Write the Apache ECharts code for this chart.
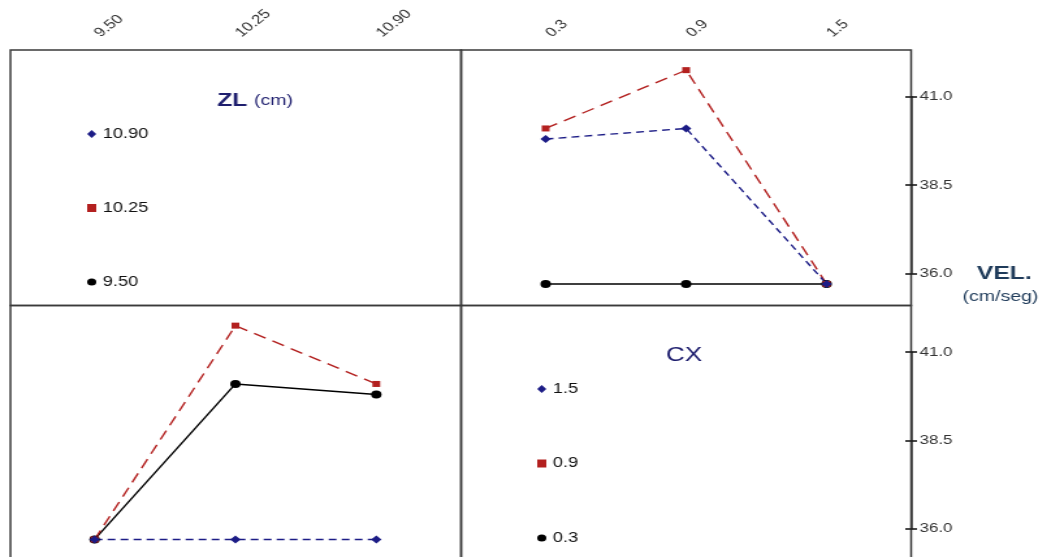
<!DOCTYPE html>
<html>
<head>
<meta charset="utf-8">
<script src="https://cdn.jsdelivr.net/npm/echarts@6/dist/echarts.min.js"></script>
<style>
  html, body { margin: 0; padding: 0; background: #fff; overflow: hidden; }
  /* the chart is laid out narrow and stretched horizontally */
  #chart { width: 808px; height: 557px; transform: scaleX(1.3007); transform-origin: 0 0; }
</style>
</head>
<body>
<div id="chart"></div>
<script>
// factor levels
const zlLevels = ['9.50', '10.25', '10.90'];
const cxLevels = ['0.3', '0.9', '1.5'];

// mean VEL. (cm/seg) for each ZL level, across CX = 0.3, 0.9, 1.5
const velZL950  = [35.7, 35.7, 35.7];
const velZL1025 = [40.1, 41.75, 35.7];
const velZL1090 = [39.8, 40.1, 35.7];

// the same cell means read per CX level, across ZL = 9.50, 10.25, 10.90
const velCX03 = [velZL950[0], velZL1025[0], velZL1090[0]];
const velCX09 = [velZL950[1], velZL1025[1], velZL1090[1]];
const velCX15 = [velZL950[2], velZL1025[2], velZL1090[2]];

// response axis: tick labels and visible range of each panel row
const velTickMin = 36.0, velTickMax = 41.0, velTickStep = 2.5;
const velMin = 35.09, velMax = 42.32;

const FONT = 'Liberation Sans, Arial, sans-serif';
const BLACK = '#000000', RED = '#b3201f', BLUE = '#1c1c86';
const TITLE_BLUE = '#1e1e6e', VEL_BLUE = '#1f3b5a';
const FRAME = '#3a3a3a';

// panel frame (layout units, before horizontal stretch)
const P = { x0: 8, xm: 354.5, x1: 700.5, y0: 50, ym: 305.5, h: 255.5, bottom: 557 };
const rowPx = (rowTop, v) => rowTop + (velMax - v) / (velMax - velMin) * P.h;

function panel(x, y, w, h) {
  return { type: 'rect', silent: true, z: 0,
    shape: { x: x, y: y, width: w, height: h },
    style: { fill: 'none', stroke: FRAME, lineWidth: 1.5 } };
}

// data grids: VEL. range of the row, axis itself not drawn
function dataAxis(gridIndex, min) {
  return { type: 'value', gridIndex: gridIndex, min: min, max: velMax, show: false };
}

// narrow grid ending on the right frame line, carrying the 36.0 / 38.5 / 41.0 scale;
// ticks cross the frame line, so one axis draws the outer half and one the inner half
function scaleAxis(gridIndex, inside) {
  return {
    type: 'value', gridIndex: gridIndex, position: 'right', offset: 0,
    min: velTickMin, max: velTickMax, interval: velTickStep,
    axisLine: { show: !inside, onZero: false, lineStyle: { color: FRAME, width: 1.5 } },
    splitLine: { show: false },
    axisTick: { show: true, inside: inside, length: 4.5,
                lineStyle: { color: '#1a1a1a', width: 1.6 } },
    axisLabel: { show: !inside, margin: 6.5, formatter: v => v.toFixed(1),
                 fontFamily: FONT, fontSize: 13, color: '#333' }
  };
}

function scaleGrid(rowTop) {
  return { left: P.x1 - 1, width: 1, top: rowPx(rowTop, velTickMax),
           height: rowPx(rowTop, velTickMin) - rowPx(rowTop, velTickMax) };
}

function levelAxis(gridIndex, data, offset) {
  return {
    type: 'category', gridIndex: gridIndex, data: data, boundaryGap: false,
    position: 'top', offset: offset,
    axisLine: { show: false }, axisTick: { show: false }, splitLine: { show: false },
    axisLabel: { rotate: -45, margin: 13, padding: [0, 0, 0, 3],
                 fontFamily: FONT, fontSize: 13, color: '#333' }
  };
}

function hiddenX(gridIndex) {
  return { type: 'value', gridIndex: gridIndex, show: false, min: 0, max: 1 };
}

function lineSeries(name, xi, yi, data, color, symbol, size, type, width) {
  return {
    type: 'line', name: name, xAxisIndex: xi, yAxisIndex: yi, data: data,
    symbol: symbol, symbolSize: size, showSymbol: true, clip: false,
    itemStyle: { color: color },
    lineStyle: { color: color, width: width, type: type },
    emphasis: { disabled: true }
  };
}

const legendText = { fontFamily: FONT, fontSize: 14, color: '#111', lineHeight: 14 };
const bottomMin = velMax - (P.bottom - P.ym) / P.h * (velMax - velMin);

const option = {
  animation: false,
  backgroundColor: '#ffffff',
  graphic: [
    panel(P.x0, P.y0, P.xm - P.x0, P.h),
    panel(P.xm, P.y0, P.x1 - P.xm, P.h),
    panel(P.x0, P.ym, P.xm - P.x0, P.h),
    panel(P.xm, P.ym, P.x1 - P.xm, P.h)
  ],
  title: [
    { text: '{a|ZL} {b|(cm)}', left: 167, top: 91, padding: 0,
      textStyle: { rich: {
        a: { fontFamily: FONT, fontSize: 19, fontWeight: 'bold', color: TITLE_BLUE, verticalAlign: 'middle' },
        b: { fontFamily: FONT, fontSize: 15, fontWeight: 'normal', color: TITLE_BLUE, verticalAlign: 'middle' } } } },
    { text: 'CX', left: 512, top: 345, padding: 0,
      textStyle: { fontFamily: FONT, fontSize: 20, fontWeight: 'normal', color: TITLE_BLUE } },
    { text: 'VEL.', left: 751, top: 264, padding: 0,
      textStyle: { fontFamily: FONT, fontSize: 19, fontWeight: 'bold', color: VEL_BLUE } },
    { text: '(cm/seg)', left: 740, top: 289, padding: 0,
      textStyle: { fontFamily: FONT, fontSize: 15, fontWeight: 'normal', color: VEL_BLUE } }
  ],
  legend: [
    { orient: 'vertical', left: 67, top: 127, padding: 0, itemGap: 60,
      itemWidth: 7, itemHeight: 8, selectedMode: false, textStyle: legendText,
      data: [ { name: zlLevels[2], icon: 'diamond' },
              { name: zlLevels[1], icon: 'rect' },
              { name: zlLevels[0], icon: 'circle' } ] },
    { orient: 'vertical', left: 413, top: 382, padding: 0, itemGap: 60.5,
      itemWidth: 7, itemHeight: 8, selectedMode: false, textStyle: legendText,
      data: [ { name: cxLevels[2], icon: 'diamond' },
              { name: cxLevels[1], icon: 'rect' },
              { name: cxLevels[0], icon: 'circle' } ] }
  ],
  grid: [
    { left: 419.5, width: 216, top: P.y0, height: P.h },
    { left: 72.7, width: 216.6, top: P.ym, height: P.bottom - P.ym },
    scaleGrid(P.y0), scaleGrid(P.ym),
    scaleGrid(P.y0), scaleGrid(P.ym)
  ],
  xAxis: [
    levelAxis(0, cxLevels, 0),
    levelAxis(1, zlLevels, P.ym - P.y0),
    hiddenX(2), hiddenX(3), hiddenX(4), hiddenX(5)
  ],
  yAxis: [
    dataAxis(0, velMin),
    dataAxis(1, bottomMin),
    scaleAxis(2, false),
    scaleAxis(3, false),
    scaleAxis(4, true),
    scaleAxis(5, true)
  ],
  series: [
    // VEL. against CX, one line per ZL level
    lineSeries(zlLevels[0], 0, 0, velZL950,  BLACK, 'circle',  8, 'solid',  1.4),
    lineSeries(zlLevels[1], 0, 0, velZL1025, RED,   'rect',    6, [10, 6],  1.4),
    lineSeries(zlLevels[2], 0, 0, velZL1090, BLUE,  'diamond', 8, [6, 4],   1.4),
    // VEL. against ZL, one line per CX level
    lineSeries(cxLevels[0], 1, 1, velCX03, BLACK, 'circle',  8, 'solid',  1.4),
    lineSeries(cxLevels[1], 1, 1, velCX09, RED,   'rect',    6, [10, 6],  1.4),
    lineSeries(cxLevels[2], 1, 1, velCX15, BLUE,  'diamond', 8, [6, 4],   1.4)
  ]
};

const chart = echarts.init(document.getElementById('chart'), null, { renderer: 'canvas' });
chart.setOption(option);
</script>
</body>
</html>
